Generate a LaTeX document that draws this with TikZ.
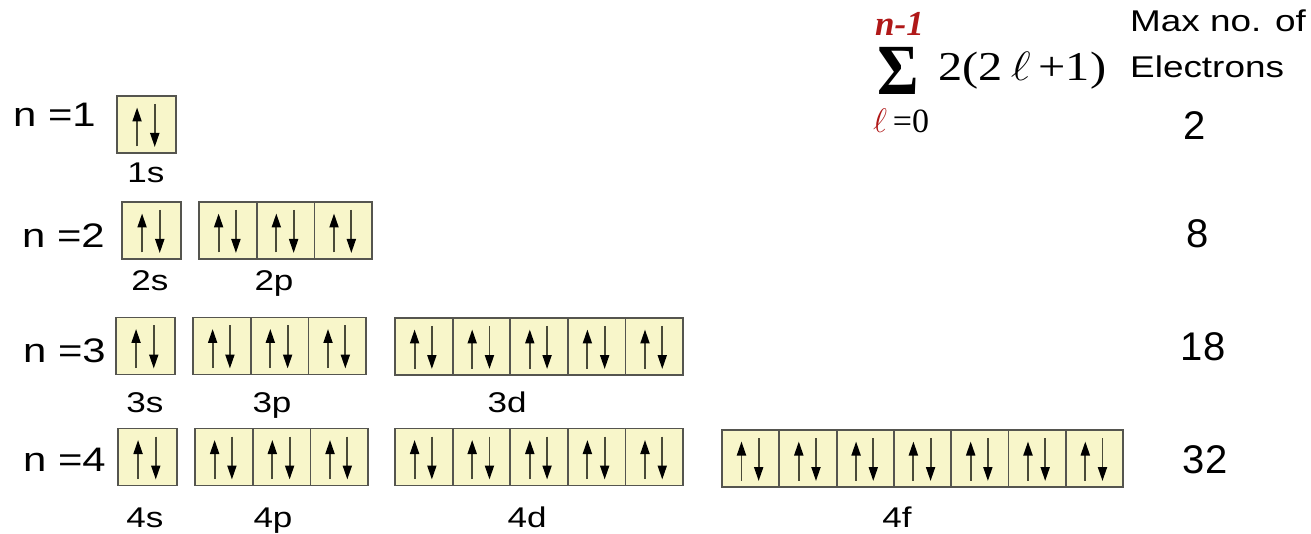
\documentclass[tikz,border=0pt]{standalone}
\usepackage{fix-cm}
\usepackage{fontspec}
\setmainfont{Liberation Serif}
\newfontfamily\arial{Liberation Sans}
\usetikzlibrary{arrows.meta,calc}
\definecolor{cellfill}{HTML}{F8F6CA}
\definecolor{cellline}{HTML}{55554F}
\definecolor{shaft}{HTML}{4A4A38}
\definecolor{fred}{HTML}{B01818}
\newcommand\hs[1]{\scalebox{1.23}[1]{#1}}
\tikzset{
  cell/.style={draw=cellline, line width=1.8pt, fill=cellfill, inner sep=0pt, minimum height=57pt},
  spin/.style={draw=shaft, line width=1.9pt, -{Triangle[length=14pt,width=9pt,color=black]}},
  nlab/.style={anchor=base west, inner sep=0pt, font=\arial\fontsize{34}{40}\selectfont},
  olab/.style={anchor=base, inner sep=0pt, font=\arial\fontsize{28.5}{32}\selectfont},
  maxlab/.style={anchor=base, inner sep=0pt, font=\arial\fontsize{40}{46}\selectfont},
  hdr/.style={anchor=base west, inner sep=0pt, font=\arial\fontsize{30}{34}\selectfont},
  frm/.style={anchor=base west, inner sep=0pt},
}
\newcommand\orbset[5]{% #1 name, #2 left x, #3 top y, #4 cells, #5 cell width
  \foreach \i in {1,...,#4}{%
    \node[cell, minimum width=#5pt] (#1-\i) at ({#2+(\i-0.5)*#5},{#3+28.5}) {};
    \draw[spin] ($(#1-\i.center)+({-0.16*#5},22)$) -- ($(#1-\i.center)+({-0.16*#5},-17)$);
    \draw[spin] ($(#1-\i.center)+({0.14*#5},-20.5)$) -- ($(#1-\i.center)+({0.14*#5},22.5)$);
  }}
\begin{document}
\begin{tikzpicture}[x=1pt,y=-1pt]
\fill[white] (0,0) rectangle (1311,534);
\useasboundingbox (0,0) rectangle (1311,534);

% row labels
\node[nlab] (n1) at (13,127) {\hs{n =1}};
\node[nlab] (n2) at (22,248) {\hs{n =2}};
\node[nlab] (n3) at (23,362) {\hs{n =3}};
\node[nlab] (n4) at (23,471) {\hs{n =4}};

% orbitals
\orbset{o1s}{117}{96}{1}{59}
\orbset{o2s}{122}{202}{1}{59}
\orbset{o2p}{199}{202}{3}{57.7}
\orbset{o3s}{116}{317.5}{1}{59}
\orbset{o3p}{193}{317.5}{3}{57.7}
\orbset{o3d}{395}{318}{5}{57.6}
\orbset{o4s}{118}{428.5}{1}{59}
\orbset{o4p}{195}{428.5}{3}{57.7}
\orbset{o4d}{395}{428.5}{5}{57.6}
\orbset{o4f}{722}{430}{7}{57.3}

% orbital labels
\node[olab] (l1s) at (146,183) {\hs{1s}};
\node[olab] (l2s) at (150,291) {\hs{2s}};
\node[olab] (l2p) at (274,291) {\hs{2p}};
\node[olab] (l3s) at (145,412) {\hs{3s}};
\node[olab] (l3p) at (272,412) {\hs{3p}};
\node[olab] (l3d) at (507,412) {\hs{3d}};
\node[olab] (l4s) at (145,527) {\hs{4s}};
\node[olab] (l4p) at (273,527) {\hs{4p}};
\node[olab] (l4d) at (527,527) {\hs{4d}};
\node[olab] (l4f) at (897,527) {\hs{4f}};

% max numbers
\node[maxlab] (m1) at (1195,140) {2};
\node[maxlab] (m2) at (1198,248) {8};
\node[maxlab] (m3) at (1203,360) {18};
\node[maxlab] (m4) at (1205,473) {32};

% header
\node[hdr] (h1) at (1130,32) {\hs{Max no. of}};
\node[hdr] (h2) at (1130,78) {\hs{Electrons}};

% formula
\node[frm, font=\fontsize{35}{40}\selectfont\bfseries\itshape, text=fred] (ub) at (875,36) {n-1};
\node[frm, font=\fontsize{72}{76}\selectfont\bfseries] (sig) at (877,95) {\scalebox{0.88}[1]{Σ}};
\node[frm, font=\fontsize{41}{46}\selectfont] (expr) at (938,81) {\scalebox{1.18}[1]{2(2\,$\ell$\,+1)}};
\node[frm, font=\fontsize{34}{38}\selectfont] (lb) at (873,133) {\textcolor{fred}{$\ell$}\,=0};
\end{tikzpicture}
\end{document}
